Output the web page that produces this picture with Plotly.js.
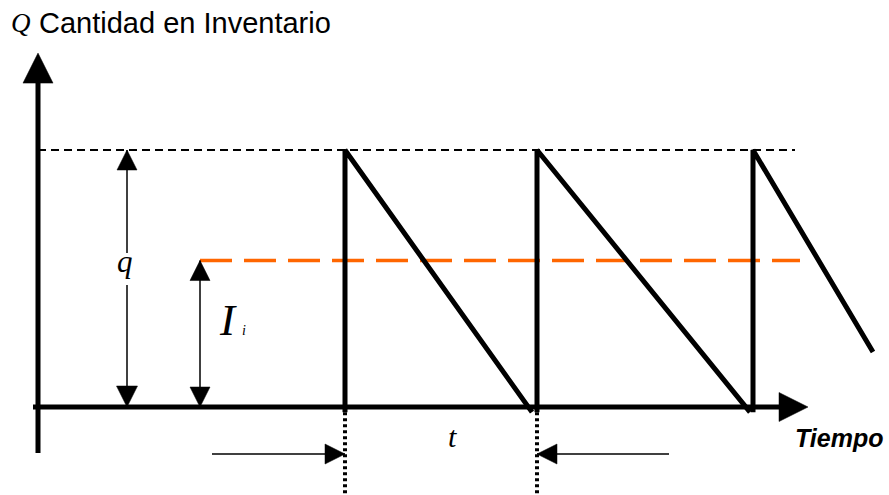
<!DOCTYPE html>
<html>
<head>
<meta charset="utf-8">
<script src="https://cdn.plot.ly/plotly-3.0.1.min.js"></script>
<style>html,body{margin:0;padding:0;background:#fff;}#chart{width:889px;height:495px;}</style>
</head>
<body>
<div id="chart"></div>
<script>
// ---- data (time units / quantity units) ----
const qMax = 100;                       // order quantity q
const invLevel = 57;                    // average inventory level I_i
const restockTimes = [30.7, 49.9, 71.5]; // replenishment instants
const depletionTimes = [49.4, 71.2, 83.5]; // end of each drawn decline
const depletionLevels = [-2, -2, 21.4];  // level reached at end of decline
const qArrowTime = 8.9;
const iArrowTime = 16.2;
const horizonDashEnd = 75.7;
const orangeDashEnd = 76.2;
const yAxisTop = 127, yAxisTip = 137.7, yAxisBottom = -17.9;
const xAxisStart = -0.5, xAxisEnd = 74.5, xAxisTip = 77.0;
const tArrowLevel = -18.3;
const tArrowLeftStart = 17.4, tArrowRightStart = 63.1;
const qLabelGapTop = 59.9, qLabelGapBottom = 47.5;

// ---- build traces ----
const saw = {x: [], y: []};
restockTimes.forEach((t, i) => {
  saw.x.push(t, t, depletionTimes[i], null);
  saw.y.push(-2, qMax, depletionLevels[i], null);
});
const dots = {x: [], y: []};
[restockTimes[0], restockTimes[1]].forEach(t => {
  dots.x.push(t, t, null); dots.y.push(-2, -36, null);
});

const black = '#000000';
const traces = [
  {x: [0, horizonDashEnd], y: [qMax, qMax], mode: 'lines', line: {color: black, width: 2, dash: '8px,5px'}},
  {x: [iArrowTime, orangeDashEnd], y: [invLevel, invLevel], mode: 'lines', line: {color: '#FF6600', width: 3.5, dash: '32px,12px'}},
  {x: [0, 0], y: [yAxisBottom, yAxisTop], mode: 'lines', line: {color: black, width: 5}},
  {x: [xAxisStart, xAxisEnd], y: [0, 0], mode: 'lines', line: {color: black, width: 5}},
  {x: saw.x, y: saw.y, mode: 'lines', line: {color: black, width: 5}},
  {x: dots.x, y: dots.y, mode: 'lines', line: {color: black, width: 4, dash: '3px,3px'}},
  {x: [qArrowTime, qArrowTime, null, qArrowTime, qArrowTime], y: [qMax, qLabelGapTop, null, qLabelGapBottom, 0], mode: 'lines', line: {color: black, width: 1.5}},
  {x: [iArrowTime, iArrowTime], y: [invLevel, 0], mode: 'lines', line: {color: black, width: 1.5}},
  {x: [tArrowLeftStart, restockTimes[0], null, tArrowRightStart, restockTimes[1]], y: [tArrowLevel, tArrowLevel, null, tArrowLevel, tArrowLevel], mode: 'lines', line: {color: black, width: 1.5}},
  {x: [0, xAxisTip, qArrowTime, qArrowTime, iArrowTime, iArrowTime, restockTimes[0], restockTimes[1]],
   y: [yAxisTip, 0, qMax, 0, invLevel, 0, tArrowLevel, tArrowLevel],
   mode: 'markers', opacity: 1,
   marker: {color: black, opacity: 1, line: {width: 0.5, color: black},
     symbol: ['arrow-up', 'arrow-right', 'arrow-up', 'arrow-down', 'arrow-up', 'arrow-down', 'arrow-right', 'arrow-left'],
     size: [30, 29, 20, 21, 20, 20, 20, 20]}}
];
traces.forEach(t => { t.type = 'scatter'; t.hoverinfo = 'skip'; t.showlegend = false; });

const serif = 'Liberation Serif, Times New Roman, serif';
const sans = 'Liberation Sans, Arial, sans-serif';
const annotations = [
  {x: -2.9, y: 149.4, xanchor: 'left', yanchor: 'middle', text: '<i>Q</i>', font: {family: serif, size: 27, color: black}},
  {x: -0.1, y: 149.6, xanchor: 'left', yanchor: 'middle', text: 'Cantidad en Inventario', font: {family: sans, size: 29, color: black}},
  {x: 8.7, y: 56.5, text: '<i>q</i>', font: {family: serif, size: 31, color: black}},
  {x: 19.0, y: 34.0, text: '<i>I</i>', font: {family: serif, size: 45, color: black}},
  {x: 20.6, y: 29.6, text: '<i>i</i>', font: {family: serif, size: 14, color: black}},
  {x: 41.4, y: -11.5, text: '<i>t</i>', font: {family: serif, size: 30, color: black}},
  {x: 80.1, y: -12.2, text: '<b><i>Tiempo</i></b>', font: {family: sans, size: 25, color: black}}
].map(a => Object.assign({showarrow: false, xref: 'x', yref: 'y'}, a));

const layout = {
  width: 889, height: 495,
  margin: {l: 0, r: 0, t: 0, b: 0, pad: 0},
  paper_bgcolor: '#fff', plot_bgcolor: '#fff',
  showlegend: false,
  xaxis: {range: [-3.8, 85.1], visible: false, fixedrange: true},
  yaxis: {range: [-34.24, 158.37], visible: false, fixedrange: true},
  annotations: annotations
};
Plotly.newPlot('chart', traces, layout, {displayModeBar: false, staticPlot: true});
</script>
</body>
</html>
